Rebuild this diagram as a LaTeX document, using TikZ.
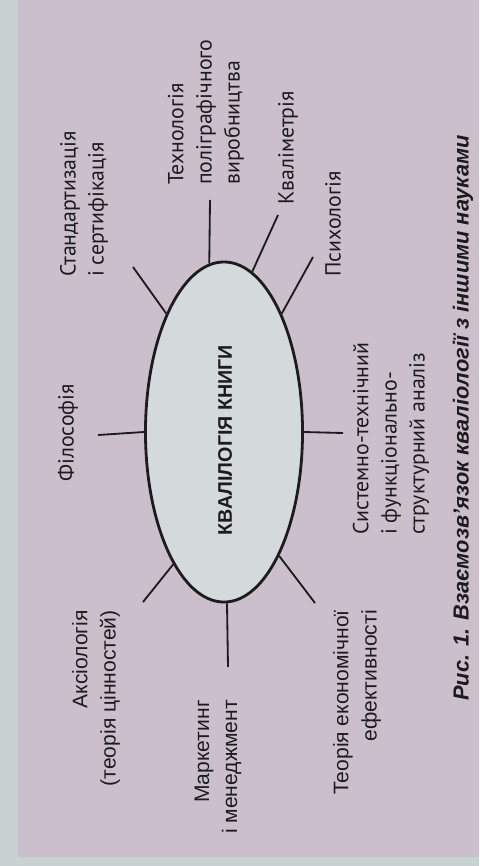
\documentclass[tikz,border=0pt]{standalone}
\usepackage{fontspec}
\setmainfont{PT Sans}
\newfontfamily\arialfont{Liberation Sans}
\usepackage{tikz}
\usetikzlibrary{shapes.geometric}
\definecolor{pagebg}{RGB}{200,210,208}
\definecolor{panel}{RGB}{204,191,204}
\definecolor{ovalfill}{RGB}{212,218,220}
\definecolor{ink}{RGB}{28,28,28}

\begin{document}
\begin{tikzpicture}[x=0.025cm,y=-0.025cm,
    lbl/.style={rotate=90,inner sep=0pt,text=ink,font=\fontsize{15.5}{20}\selectfont},
    lblb/.style={rotate=90,inner sep=0pt,text=ink,font=\arialfont\fontsize{15}{20}\selectfont},
    spoke/.style={ink,line width=1.3pt}]
    \useasboundingbox (0,0) rectangle (479,866);
    \fill[pagebg] (0,0) rectangle (479,866);
    \fill[panel] (18,0) rectangle (479,857);
    % central oval
    \node[ellipse,draw=ink,line width=2pt,fill=ovalfill,minimum width=3.925cm,minimum height=8.5cm,inner sep=0pt] (kval) at (224,432) {};
    \node[rotate=90,text=ink,font=\arialfont\bfseries\fontsize{14}{16}\selectfont] (kvtitle) at (225,440) {КВАЛІЛОГІЯ КНИГИ};
    % outer ends of the spokes
    \coordinate (e-fil) at (98,435);
    \coordinate (e-sys) at (343,433);
    \coordinate (e-tech) at (210,200);
    \coordinate (e-kvm) at (278,215);
    \coordinate (e-psy) at (313,257);
    \coordinate (e-std) at (133,267);
    \coordinate (e-mark) at (228,667);
    \coordinate (e-aks) at (143,602);
    \coordinate (e-teor) at (315,603);
    \foreach \a/\p in {180/e-fil, 0/e-sys, 95/e-tech, 80/e-kvm, 64/e-psy, 116/e-std, 271/e-mark, 249/e-aks, 294/e-teor}
    \draw[spoke] (kval.\a) -- (\p);
    % neighbouring sciences
    \node[lbl,align=left,anchor=west] (std) at (84,277) {Стандартизація\\і сертифікація};
    \node[lbl,align=left,anchor=west] (tech) at (206,185) {Технологія\\поліграфічного\\виробництва};
    \node[lbl,anchor=west] (kvm) at (288,205) {Кваліметрія};
    \node[lbl,anchor=west] (psy) at (333,277) {Психологія};
    \node[lbl] (fil) at (68,433) {Філософія};
    \node[lbl,align=left,anchor=west] (sys) at (391,535) {Системно-технічний\\і функціонально-\\структурний аналіз};
    \node[lblb,align=right,anchor=east] (aks) at (96,610) {Аксіологія\\(теорія цінностей)};
    \node[lblb,align=right,anchor=east] (mark) at (218,700) {Маркетинг\\і менеджмент};
    \node[lblb,align=right,anchor=east] (teor) at (357,610) {Теорія економічної\\ефективності};
    % caption
    \node[rotate=90,text=ink,font=\arialfont\bfseries\itshape\fontsize{15.5}{18}\selectfont] (cap) at (463,418) {Рис. 1. Взаємозв’язок кваліології з іншими науками};
\end{tikzpicture}
\end{document}
